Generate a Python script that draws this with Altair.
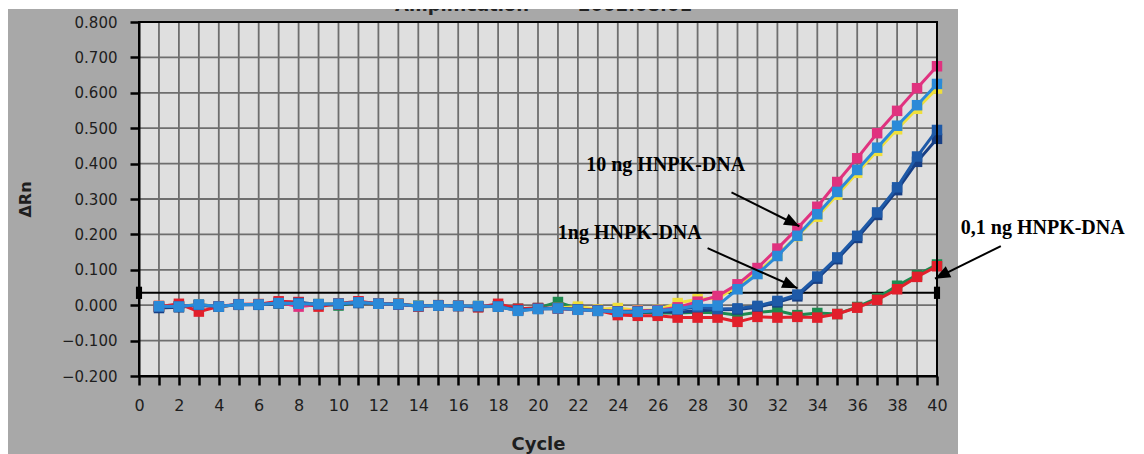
import altair as alt
import pandas as pd

# ---------------- data ----------------
cycles = list(range(1, 41))

series_names = ["10ng_a", "10ng_b", "10ng_c", "1ng_a", "1ng_b", "0.1ng_a", "0.1ng_b"]
series_colors = ["#e0327f", "#f0df3a", "#2b8ad8", "#1e5aa8", "#173f85", "#1d8a4f", "#e21f2b"]

pink = [-0.002, -0.002, 0.000, -0.003, 0.003, 0.003, 0.008, -0.004, 0.002, 0.003,
        0.010, 0.004, 0.003, -0.003, 0.000, -0.002, -0.003, -0.003, -0.012, -0.009,
        -0.008, -0.012, -0.014, -0.017, -0.016, -0.014, -0.006, 0.010, 0.026, 0.059,
        0.105, 0.160, 0.217, 0.278, 0.348, 0.415, 0.486, 0.549, 0.613, 0.675]
yellow = [-0.002, -0.003, 0.002, -0.004, 0.002, 0.003, 0.006, 0.005, 0.003, 0.004,
          0.008, 0.004, 0.004, -0.001, 0.000, -0.001, -0.002, -0.003, -0.014, -0.010,
          -0.008, -0.004, -0.012, -0.008, -0.015, -0.013, 0.006, 0.017, 0.020, 0.052,
          0.092, 0.142, 0.195, 0.250, 0.312, 0.374, 0.436, 0.497, 0.555, 0.612]
light_blue = [-0.003, -0.004, 0.002, -0.004, 0.002, 0.002, 0.006, 0.004, 0.003, 0.004,
              0.008, 0.004, 0.003, -0.002, -0.001, -0.002, -0.002, -0.004, -0.016, -0.011,
              -0.009, -0.013, -0.016, -0.019, -0.019, -0.016, -0.011, 0.000, -0.001, 0.045,
              0.088, 0.139, 0.196, 0.257, 0.320, 0.382, 0.445, 0.507, 0.565, 0.625]
dark_blue = [-0.004, -0.004, 0.001, -0.004, 0.002, 0.001, 0.005, 0.006, 0.003, 0.004,
             0.007, 0.004, 0.003, -0.002, -0.001, -0.002, -0.003, -0.004, -0.014, -0.010,
             -0.008, -0.012, -0.015, -0.018, -0.018, -0.016, -0.012, -0.005, -0.011, -0.009,
             -0.002, 0.012, 0.030, 0.081, 0.135, 0.196, 0.262, 0.333, 0.420, 0.495]
navy = [-0.008, -0.006, 0.000, -0.004, 0.001, 0.002, 0.005, 0.008, 0.002, 0.003,
        0.006, 0.004, 0.002, -0.002, -0.001, -0.002, -0.003, -0.004, -0.015, -0.010,
        -0.009, -0.012, -0.016, -0.020, -0.020, -0.018, -0.020, -0.016, -0.013, -0.012,
        -0.006, 0.008, 0.025, 0.075, 0.130, 0.190, 0.255, 0.325, 0.405, 0.470]
green = [-0.005, -0.003, 0.000, -0.004, 0.002, 0.002, 0.006, 0.004, 0.003, -0.001,
         0.008, 0.004, 0.004, -0.004, 0.000, -0.002, -0.005, -0.003, -0.010, -0.008,
         0.009, -0.010, -0.014, -0.018, -0.020, -0.022, -0.022, -0.020, -0.021, -0.028,
         -0.020, -0.016, -0.028, -0.022, -0.025, -0.005, 0.020, 0.055, 0.085, 0.115]
red = [-0.004, 0.004, -0.018, -0.004, 0.002, 0.003, 0.011, 0.009, -0.004, 0.005,
       0.011, 0.004, 0.004, -0.003, 0.000, -0.002, -0.006, 0.004, -0.010, -0.008,
       -0.010, -0.012, -0.015, -0.028, -0.030, -0.030, -0.035, -0.035, -0.035, -0.047,
       -0.033, -0.035, -0.033, -0.035, -0.025, -0.007, 0.015, 0.045, 0.080, 0.110]

series_values = [pink, yellow, light_blue, dark_blue, navy, green, red]
draw_order = ["0.1ng_a", "1ng_b", "10ng_b", "10ng_a", "0.1ng_b", "1ng_a", "10ng_c"]

threshold = 0.035
x_ticks = list(range(0, 41))
x_grid = list(range(0, 41))
y_ticks = [-0.2, -0.1, 0.0, 0.1, 0.2, 0.3, 0.4, 0.5, 0.6, 0.7, 0.8]

ann_text = ["10 ng HNPK-DNA", "1ng HNPK-DNA", "0,1 ng HNPK-DNA"]
ann_x = [26.4, 24.6, 45.3]
ann_y = [0.395, 0.205, 0.217]
arrow_x0 = [29.7, 28.5, 43.2]
arrow_y0 = [0.319, 0.161, 0.167]
arrow_x1 = [33.1, 33.0, 39.9]
arrow_y1 = [0.223, 0.048, 0.075]
arrow_angle = [117, 114, 243]

title_parts = ["Amplification", "2002.08.01"]

# ---------------- layout ----------------
W, H = 798, 354
PAD = {"left": 139, "top": 22, "right": 207, "bottom": 78}
OUTER = "#a8a8a8"
INNER = "#dfdfdf"
GRID = "#6e6e6e"

xs = alt.Scale(domain=[0, 40], nice=False, zero=False)
ys = alt.Scale(domain=[-0.2, 0.8], nice=False, zero=False)

xa = alt.Axis(values=x_ticks, format="d",
              labelExpr="datum.value % 2 == 0 ? datum.label : ''",
              grid=False, domainColor="black", domainWidth=2,
              tickColor="black", tickWidth=2.5, tickSize=9,
              labelFont="DejaVu Sans", labelFontSize=16, labelColor="#1e1e1e",
              labelPadding=12, labelFlush=False, labelOverlap=False,
              title="Cycle", titleFont="DejaVu Sans", titleFontWeight="bold",
              titleFontSize=18, titleColor="#1e1e1e", titleBaseline="alphabetic",
              titleY=73, zindex=1)
ya = alt.Axis(values=y_ticks, format=".3f",
              grid=False, domainColor="black", domainWidth=2,
              tickColor="black", tickWidth=2.5, tickSize=9,
              labelFont="DejaVu Sans", labelFontSize=15, labelColor="#1e1e1e",
              labelPadding=13, labelFlush=False, labelOverlap=False,
              title="ΔRn", titleFont="DejaVu Sans", titleFontWeight="bold",
              titleFontSize=16, titleColor="#1e1e1e", titleAngle=270,
              titleX=-114, titleY=177, titleAlign="center", titleBaseline="middle",
              zindex=1)

one = pd.DataFrame({"k": [0]})

outer_bg = alt.Chart(one).mark_rect(color=OUTER).encode(
    x=alt.value(-131), x2=alt.value(819), y=alt.value(-13), y2=alt.value(432))
inner_bg = alt.Chart(one).mark_rect(color=INNER).encode(
    x=alt.value(0), x2=alt.value(W), y=alt.value(0), y2=alt.value(H))

vgrid = alt.Chart(pd.DataFrame({"Cycle": x_grid})).mark_rule(
    color=GRID, strokeWidth=1.8).encode(
    x=alt.X("Cycle:Q", scale=xs, axis=xa), y=alt.value(0), y2=alt.value(H))
hgrid = alt.Chart(pd.DataFrame({"dRn": y_ticks})).mark_rule(
    color=GRID, strokeWidth=1.8).encode(
    y=alt.Y("dRn:Q", scale=ys, axis=ya), x=alt.value(0), x2=alt.value(W))

thr = alt.Chart(pd.DataFrame({"Cycle": [0], "Cycle2": [40], "dRn": [threshold]})).mark_rule(
    color="black", strokeWidth=2).encode(
    x=alt.X("Cycle:Q", scale=xs, axis=xa), x2="Cycle2:Q",
    y=alt.Y("dRn:Q", scale=ys, axis=ya))
thr_ends = alt.Chart(pd.DataFrame({"Cycle": [0, 40], "dRn": [threshold, threshold]})).mark_point(
    shape="M-0.5,-1L0.5,-1L0.5,1L-0.5,1Z", filled=True, color="black", opacity=1, size=150).encode(
    x=alt.X("Cycle:Q", scale=xs, axis=xa), y=alt.Y("dRn:Q", scale=ys, axis=ya))

layers = [outer_bg, inner_bg, vgrid, hgrid, thr]

for name in draw_order:
    i = series_names.index(name)
    df = pd.DataFrame({"Cycle": cycles, "dRn": series_values[i]})
    base = alt.Chart(df).encode(
        x=alt.X("Cycle:Q", scale=xs, axis=xa),
        y=alt.Y("dRn:Q", scale=ys, axis=ya))
    layers.append(base.mark_line(color=series_colors[i], strokeWidth=3))
    layers.append(base.mark_point(shape="square", filled=True, opacity=1,
                                  color=series_colors[i], size=110))

layers.append(thr_ends)

frame = alt.Chart(one).mark_rect(filled=False, stroke="black", strokeWidth=2).encode(
    x=alt.value(0), x2=alt.value(W), y=alt.value(0), y2=alt.value(H))
layers.append(frame)

ann_df = pd.DataFrame({"Cycle": ann_x, "dRn": ann_y, "t": ann_text})
labels = alt.Chart(ann_df).mark_text(
    font="Liberation Serif", fontWeight="bold", fontSize=20, color="black",
    align="center", baseline="middle").encode(
    x=alt.X("Cycle:Q", scale=xs, axis=xa), y=alt.Y("dRn:Q", scale=ys, axis=ya), text="t:N")

arr_df = pd.DataFrame({"Cycle": arrow_x0, "dRn": arrow_y0,
                       "Cycle2": arrow_x1, "dRn2": arrow_y1, "ang": arrow_angle})
arr_lines = alt.Chart(arr_df).mark_rule(color="black", strokeWidth=2).encode(
    x=alt.X("Cycle:Q", scale=xs, axis=xa), y=alt.Y("dRn:Q", scale=ys, axis=ya),
    x2="Cycle2:Q", y2="dRn2:Q")
arr_heads = alt.Chart(arr_df).mark_point(
    shape="M0,0L0.65,1.6L-0.65,1.6Z", filled=True, color="black", opacity=1, size=360).encode(
    x=alt.X("Cycle2:Q", scale=xs, axis=xa), y=alt.Y("dRn2:Q", scale=ys, axis=ya),
    angle=alt.Angle("ang:Q", scale=None))
layers += [labels, arr_lines, arr_heads]

title_df = pd.DataFrame({"t": title_parts, "px": [323, 496]})
title_txt = alt.Chart(title_df).mark_text(
    font="DejaVu Sans", fontWeight="bold", fontSize=18, color="#222222",
    align="center", baseline="alphabetic").encode(
    x=alt.X("px:Q", scale=None), y=alt.value(-11), text="t:N")
white_top = alt.Chart(one).mark_rect(color="white").encode(
    x=alt.value(-139), x2=alt.value(1005), y=alt.value(-22), y2=alt.value(-13))
layers += [title_txt, white_top]

chart = alt.layer(*layers).properties(
    width=W, height=H, padding=PAD,
    autosize=alt.AutoSizeParams(type="none"),
    background="white",
).configure_view(stroke=None)

chart.save("out.html", embed_options={"renderer": "svg", "actions": False})
